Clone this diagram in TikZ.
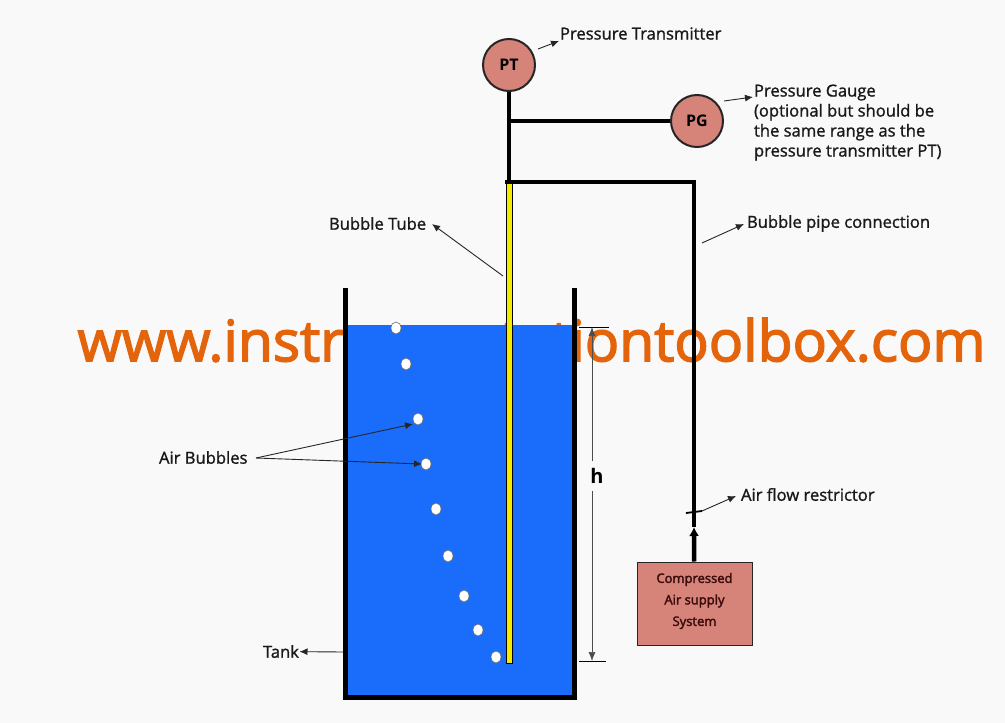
\documentclass[tikz,border=0pt]{standalone}
\usepackage{fontspec}
\setmainfont{Open Sans}
\newfontfamily\heavyfont[FakeBold=1.2]{Open Sans}
\newfontfamily\markfont[FakeBold=2.5]{Open Sans}
\usetikzlibrary{arrows.meta,shapes.geometric}
\definecolor{paper}{HTML}{F9F9F9}
\definecolor{water}{HTML}{1A6DFB}
\definecolor{salmon}{HTML}{D6837A}
\definecolor{mark}{HTML}{E4640C}
\definecolor{tubefill}{HTML}{F4EC00}
\definecolor{boxtext}{HTML}{3A0C0C}
\tikzset{
    pointer/.style={-{Latex[length=8pt,width=7pt]}, line width=0.9pt, black!85},
    pipe/.style={line width=4.5pt, black},
    label/.style={font=\fontsize{16.6}{20}\heavyfont, align=left, anchor=west, inner sep=0pt, outer sep=0.5pt, text=black!90},
    instrument/.style={circle, draw=black!85, line width=2pt, fill=salmon, minimum size=52pt, inner sep=0pt, font=\fontsize{16}{18}\selectfont\bfseries},
    bubble/.style={ellipse, draw=black!60, line width=0.6pt, fill=white, minimum width=10pt, minimum height=12pt, inner sep=0pt}
}
\begin{document}
\begin{tikzpicture}[x=1pt, y=-1pt]
    % Page and watermark
    \fill[paper] (0,0) rectangle (1005,723);
    \node[font=\fontsize{57}{60}\markfont, text=mark, inner sep=0pt] (watermark) at (531.5,340) {www.instrumentationtoolbox.com};

    % Water and tank walls
    \fill[water] (345,325) rectangle (575,697);
    \draw[line width=5pt, line join=miter] (345.5,288) -- (345.5,697) -- (574.5,697) -- (574.5,288);

    % Bubbles
    \foreach \x/\y [count=\i] in {396/328,406/364,418/419,426/464,436/509,448/556,464/596,478/630,496/657}
        \node[bubble] (bubble\i) at (\x,\y) {};

    % Bubble tube
    \draw[fill=tubefill, line width=0.8pt] (506.2,182) rectangle (512,663);

    % Instruments and air supply
    \node[instrument] (PT) at (509,65) {PT};
    \node[instrument] (PG) at (697,121) {PG};
    \node[draw=black!85, line width=1pt, fill=salmon, minimum width=115pt, minimum height=83pt, inner sep=0pt, text=boxtext, font=\fontsize{13}{21.5}\markfont] (supply) at (694.5,603.5) {\raisebox{-0.5pt}[0pt][0pt]{\parbox{100pt}{\centering Compressed\\Air supply\\System}}};

    % Piping
    \coordinate (tubetop) at (509,182);
    \coordinate (tee) at (509,121);
    \coordinate (corner) at (694,182);
    \coordinate (inlet) at (694,527);
    \draw[pipe] (PT) -- (tubetop);
    \draw[line width=3.5pt] (tee) -- (PG);
    \draw[pipe] (505,182) -- (corner) -- (inlet);
    \draw[pipe, -{Latex[length=9pt,width=10pt]}] (supply) -- (inlet);

    % Restrictor
    \coordinate (tickleft) at (686,513);
    \coordinate (tickright) at (702,511);
    \draw[line width=1.8pt] (tickleft) -- (tickright);

    % Level
    \coordinate (levelleft) at (579,327);
    \coordinate (levelright) at (609,327);
    \coordinate (baseleft) at (579,661);
    \coordinate (baseright) at (606,661);
    \coordinate (leveltop) at (592,327);
    \coordinate (levelbase) at (592,661);
    \draw[line width=0.8pt] (levelleft) -- (levelright);
    \draw[line width=0.8pt] (baseleft) -- (baseright);
    \node[font=\fontsize{20}{22}\selectfont\bfseries, inner sep=6pt, fill=paper] (h) at (597,476) {h};
    \draw[-{Latex[length=9pt,width=7pt]}, line width=0.7pt, black!70] (592,461) -- (leveltop);
    \draw[-{Latex[length=9pt,width=7pt]}, line width=0.7pt, black!70] (592,491) -- (levelbase);

    % Labels
    \node[label] (ptlabel) at (559.5,33.5) {Pressure Transmitter};
    \node[label, anchor=north west] (pglabel) at (753.5,84) {Pressure Gauge\\(optional but should be\\the same range as the\\pressure transmitter PT)};
    \node[label] (tubelabel) at (328.5,223.5) {Bubble Tube};
    \node[label] (pipelabel) at (746.5,223.5) {Bubble pipe connection};
    \node[label] (bubbleslabel) at (158.5,457.5) {Air Bubbles};
    \node[label] (restrictorlabel) at (740.5,494.5) {Air flow restrictor};
    \node[label] (tanklabel) at (262.5,651.5) {Tank};

    % Pointers
    \coordinate (ptfoot) at (538,49);
    \coordinate (pgfoot) at (724,101);
    \coordinate (tubefoot) at (503,276);
    \coordinate (pipefoot) at (702,243);
    \coordinate (tankwall) at (343,652);
    \coordinate (bubblesfoot) at (256,458);
    \draw[pointer] (ptfoot) -- (559,41);
    \draw[pointer] (pgfoot) -- (753,97);
    \draw[pointer] (tubefoot) -- (432,224);
    \draw[pointer] (pipefoot) -- (744,224);
    \draw[pointer] (tickright) -- (736,496);
    \draw[pointer] (tankwall) -- (tanklabel);
    \draw[pointer] (bubblesfoot) -- (413,424);
    \draw[pointer] (bubblesfoot) -- (422,464);
\end{tikzpicture}
\end{document}
